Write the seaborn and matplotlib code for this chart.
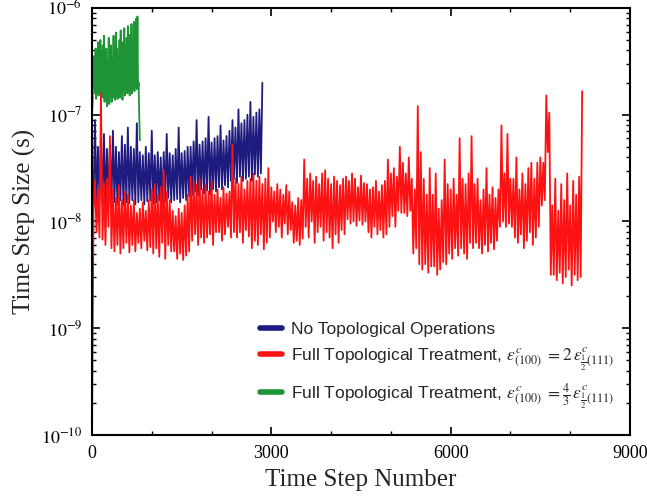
import numpy as np
import pandas as pd
import matplotlib
matplotlib.use("Agg")
import matplotlib.pyplot as plt
import seaborn as sns
from matplotlib.ticker import LogLocator, NullFormatter, MultipleLocator
from matplotlib.lines import Line2D

# time step sizes, as log10(seconds)
# "_a" readings sit on multiples of the stride, "_b" readings half a stride later
red_stride = 50
red_a = [-10.0, -7.62, -7.70, -6.80, -7.65, -7.60, -7.20,
         -7.70, -7.78, -7.66, -7.80, -7.72, -7.75,
         -7.85, -7.80, -7.92, -7.88, -7.82, -7.90, -7.80,
         -7.70, -7.65, -7.75, -7.68, -7.52, -7.72, -7.80,
         -7.90, -7.95, -7.88, -7.92, -7.85, -7.75,
         -7.58, -7.62, -7.66, -7.60,
         -7.70, -7.65, -7.72, -7.62, -7.75,
         -7.70, -7.78, -7.68, -7.74, -7.72,
         -7.28,
         -7.60, -7.65, -7.58, -7.70, -7.62,
         -7.60, -7.55, -7.62, -7.58, -7.65, -7.60, -7.50,
         -7.68, -7.72, -7.65, -7.70, -7.75, -7.66, -7.72,
         -7.82, -7.85, -7.78, -7.80,
         -7.42,
         -7.60, -7.55, -7.62, -7.58, -7.65, -7.55,
         -7.52, -7.60, -7.65, -7.58, -7.62, -7.66, -7.60,
         -7.58, -7.62, -7.55, -7.60, -7.68, -7.57, -7.64,
         -7.65, -7.70, -7.68, -7.62, -7.72, -7.66, -7.62,
         -7.42,
         -7.55, -7.50, -7.58,
         -7.30,
         -7.45, -7.55, -7.40, -7.60,
         -7.70,
         -6.92,
         -7.35, -7.60, -7.75, -7.50,
         -7.75, -7.55, -7.88, -7.80,
         -7.42, -7.65, -7.70, -7.60, -7.75,
         -7.22,
         -7.60, -7.65, -7.55,
         -7.20,
         -7.65, -7.60, -7.80, -7.70, -7.50, -7.75, -7.68, -7.78,
         -7.70, -7.10, -7.55, -7.18, -7.60,
         -7.60, -7.40, -7.70, -7.55, -7.65, -7.50, -7.45, -7.60, -7.45,
         -7.40, -7.45,
         -6.82, -6.98,
         -7.85, -7.60, -7.90, -7.65, -7.80, -7.55, -7.85, -7.62, -7.75, -7.58,
         -6.78]
red_b = [-7.90, -8.10, -8.15, -8.17, -8.22, -8.05, -8.25,
         -8.28, -8.22, -8.30, -8.25, -8.20, -8.29,
         -8.22, -8.28, -8.20, -8.25, -8.18, -8.27, -8.24,
         -8.30, -8.25, -8.33, -8.20, -8.35, -8.22, -8.28,
         -8.28, -8.35, -8.30, -8.36, -8.32, -8.28,
         -8.18, -8.12, -8.22, -8.15,
         -8.20, -8.15, -8.12, -8.22, -8.10,
         -8.10, -8.18, -8.12, -8.05, -8.15,
         -8.10,
         -8.15, -8.10, -8.20, -8.08, -8.14,
         -8.25, -8.18, -8.22, -8.12, -8.26, -8.20, -8.15,
         -8.00, -8.10, -8.05, -8.15, -8.02, -8.12, -8.08,
         -8.20, -8.18, -8.22, -8.16,
         -8.05,
         -8.15, -8.00, -8.20, -8.10, -8.05, -8.18,
         -8.10, -8.15, -8.25, -8.12, -8.20, -8.08, -8.12,
         -7.98, -8.02, -8.00, -8.04, -7.99, -8.03, -8.00,
         -8.10, -8.15, -8.05, -8.12, -8.08, -8.15, -8.12,
         -8.05,
         -7.95, -8.05, -7.90,
         -7.92,
         -7.92, -7.95, -7.90, -8.30,
         -8.25,
         -8.40,
         -8.45, -8.40, -8.48, -8.42,
         -8.42, -8.50, -8.45, -8.38,
         -8.40, -8.30, -8.35, -8.25, -8.32,
         -8.25,
         -8.30, -8.35, -8.20,
         -8.25,
         -8.20, -8.25, -8.30, -8.22, -8.28, -8.20, -8.26, -8.18,
         -8.05, -8.00, -8.05, -8.02, -8.05,
         -8.15, -8.20, -8.12, -8.25, -8.18, -8.10, -8.22, -8.15, -8.05,
         -7.85, -7.80,
         -7.35, -8.50,
         -8.50, -8.55, -8.48, -8.58, -8.52, -8.45, -8.60, -8.50, -8.55, -8.52]

blue_stride = 50
blue_a = [-7.80, -7.05, -7.30, -7.25, -7.18, -7.32, -7.28, -7.15, -7.30, -7.35,
          -7.20, -7.28, -7.12, -7.30, -7.32,
          -7.08, -7.35, -7.38, -7.30, -7.36, -7.15, -7.38, -7.35, -7.40, -7.35,
          -7.18, -7.36, -7.38, -7.32, -7.12, -7.36, -7.34, -7.30,
          -7.30, -7.25, -7.05, -7.28, -7.25, -7.22, -7.02, -7.26, -7.22, -7.20,
          -7.10, -7.24, -7.20,
          -7.15, -7.05, -7.12, -6.95, -7.08, -7.05, -7.00, -6.88, -7.02, -6.98,
          -6.95, -6.70]
blue_b = [-7.82, -7.85, -7.80, -7.84, -7.83, -7.80, -7.86, -7.82, -7.84, -7.80,
          -7.85, -7.82, -7.83, -7.80, -7.84,
          -7.82, -7.80, -7.84, -7.81, -7.80, -7.83, -7.82, -7.80, -7.84, -7.81,
          -7.78, -7.82, -7.80, -7.79, -7.82, -7.78, -7.80, -7.76,
          -7.75, -7.72, -7.76, -7.70, -7.74, -7.71, -7.75, -7.70, -7.72, -7.68,
          -7.70, -7.66, -7.68,
          -7.62, -7.60, -7.64, -7.58, -7.62, -7.60, -7.58, -7.62, -7.56, -7.58,
          -7.55]

green_stride = 20
green_a = [-7.00, -6.65, -6.45, -6.38, -6.50, -6.32, -6.45, -6.30, -6.40, -6.35,
           -6.26, -6.45, -6.38, -6.50, -6.28, -6.42, -6.35, -6.48, -6.26, -6.40,
           -6.23, -6.38, -6.45, -6.30, -6.21, -6.40, -6.32, -6.19, -6.35, -6.28,
           -6.17, -6.32, -6.25, -6.15, -6.30, -6.13, -6.22, -6.10, -6.08, -6.70,
           -7.24]
green_b = [-6.90, -6.75, -6.80, -6.85, -6.78, -6.82, -6.80, -6.86, -6.78, -6.84,
           -6.88, -6.80, -6.92, -6.85, -6.90, -6.82, -6.88, -6.84, -6.80, -6.86,
           -6.82, -6.85, -6.78, -6.84, -6.80, -6.86, -6.78, -6.82, -6.76, -6.80,
           -6.78, -6.82, -6.75, -6.80, -6.76, -6.78, -6.74, -6.76, -6.75, -7.00]

labels = [
    "No Topological Operations",
    r"Full Topological Treatment, $\varepsilon^{c}_{(100)}\ =2\,\varepsilon^{c}_{\frac{1}{2}(111)}$",
    r"Full Topological Treatment, $\varepsilon^{c}_{(100)}\ =\frac{4}{3}\,\varepsilon^{c}_{\frac{1}{2}(111)}$",
]
c_blue, c_red, c_green = "#1e1a80", "#fc1212", "#1e9436"


def frame(a, b, stride):
    step = np.concatenate([np.arange(len(a)) * stride,
                           np.arange(len(b)) * stride + stride / 2])
    val = np.concatenate([a, b])
    df = pd.DataFrame({"step": step, "dt": 10.0 ** val})
    return df.sort_values("step").reset_index(drop=True)


df_blue = frame(blue_a, blue_b, blue_stride)
df_red = frame(red_a, red_b, red_stride)
df_green = frame(green_a, green_b, green_stride)

sns.set_style("ticks")
plt.rcParams["font.family"] = ["Liberation Serif", "DejaVu Serif"]
plt.rcParams["mathtext.fontset"] = "stix"

fig = plt.figure(figsize=(6.47, 4.99), dpi=100)
ax = fig.add_axes([0.1422, 0.1283, 0.8315, 0.8557])

sns.lineplot(data=df_blue, x="step", y="dt", ax=ax, color=c_blue, lw=1.3, estimator=None)
sns.lineplot(data=df_green, x="step", y="dt", ax=ax, color=c_green, lw=1.3, estimator=None)
sns.lineplot(data=df_red, x="step", y="dt", ax=ax, color=c_red, lw=1.3, estimator=None)

ax.set_yscale("log")
ax.set_xlim(0, 9000)
ax.set_ylim(1e-10, 1e-6)
ax.set_xticks([0, 3000, 6000, 9000])
ax.xaxis.set_minor_locator(MultipleLocator(1000))
ax.set_yticks([1e-10, 1e-9, 1e-8, 1e-7, 1e-6],
              labels=[r"$10^{-10}$", r"$10^{-9}$", r"$10^{-8}$", r"$10^{-7}$", r"$10^{-6}$"])
ax.yaxis.set_minor_locator(LogLocator(base=10, subs=np.arange(2, 10)))
ax.yaxis.set_minor_formatter(NullFormatter())

ax.tick_params(which="both", direction="in", top=True, right=True, colors="black")
ax.tick_params(which="major", length=6, width=1.2, labelsize=13, pad=7)
ax.tick_params(which="minor", length=3, width=1.0)
for s in ax.spines.values():
    s.set_linewidth(1.5)
    s.set_color("black")

ax.set_xlabel("Time Step Number", fontsize=18, labelpad=5)
ax.set_ylabel("Time Step Size (s)", fontsize=18, labelpad=4)

handles = [Line2D([], [], color=c, lw=4) for c in (c_blue, c_red, c_green)]
ax.legend(handles, labels, loc="lower right", bbox_to_anchor=(1.0, 0.019),
          frameon=False, handlelength=1.3, handletextpad=0.5, labelspacing=0.5,
          prop={"family": ["Liberation Sans", "DejaVu Sans"], "size": 12.5})

fig.savefig("out.png", dpi=100)
